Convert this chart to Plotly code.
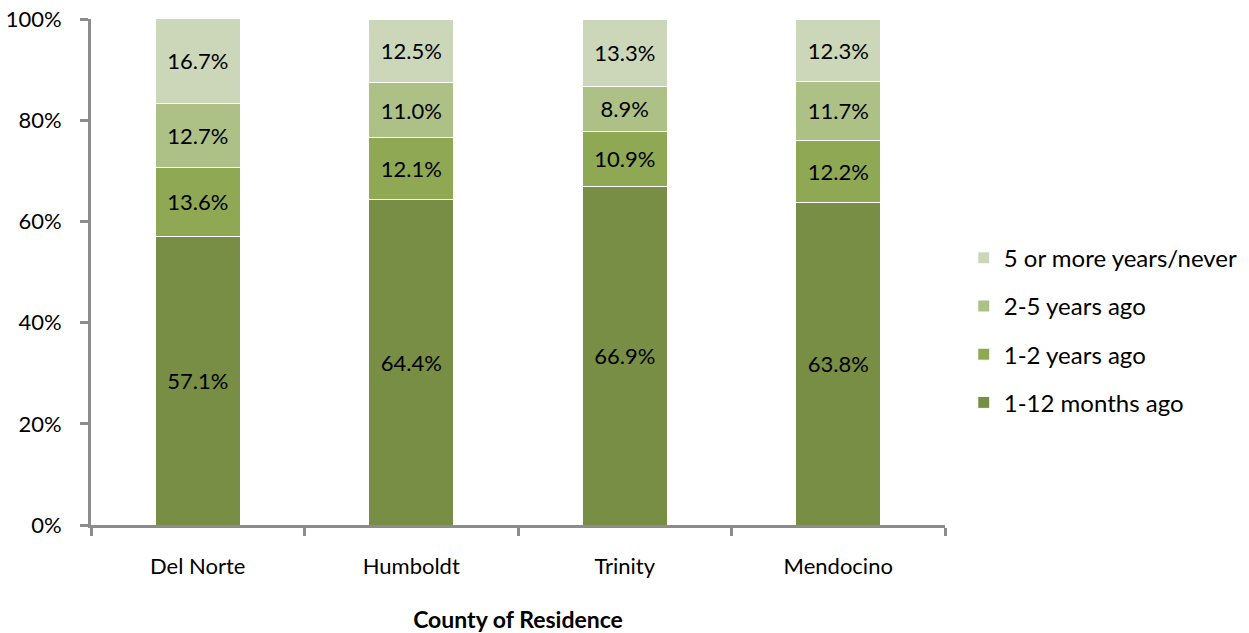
import plotly.graph_objects as go

# Share of respondents by time since last visit, per county
counties = ["Del Norte", "Humboldt", "Trinity", "Mendocino"]
series_names = ["1-12 months ago", "1-2 years ago", "2-5 years ago", "5 or more years/never"]
months_1_12 = [57.1, 64.4, 66.9, 63.8]
years_1_2 = [13.6, 12.1, 10.9, 12.2]
years_2_5 = [12.7, 11.0, 8.9, 11.7]
years_5_plus = [16.7, 12.5, 13.3, 12.3]
y_ticks = [0, 20, 40, 60, 80, 100]

series_values = [months_1_12, years_1_2, years_2_5, years_5_plus]
colors = ["#778E44", "#8FA853", "#ADC187", "#CBD7B8"]

FONT = "Lato, Carlito, 'Liberation Sans', sans-serif"
AXIS_GREY = "#8C8C8C"

fig = go.Figure()
n = len(series_names)
for i, (name, vals, col) in enumerate(zip(series_names, series_values, colors)):
    fig.add_trace(go.Bar(
        x=counties,
        y=vals,
        name=name,
        legendgroup=name,
        # top segment listed first in the legend
        legendrank=(n - i) * 100,
        marker=dict(color=col, line=dict(color="white", width=1)),
        text=[f"{v:.1f}%" for v in vals],
        textposition="inside",
        insidetextanchor="middle",
        textangle=0,
        constraintext="none",
        textfont=dict(family=FONT, size=22, color="black"),
        hoverinfo="skip",
    ))

fig.update_layout(
    width=1249,
    height=633,
    barmode="stack",
    bargap=0.6,
    plot_bgcolor="white",
    paper_bgcolor="white",
    margin=dict(l=91, r=304, t=19, b=108, autoexpand=False),
    font=dict(family=FONT, size=22, color="black"),
    legend=dict(
        traceorder="grouped",
        x=1.022,
        xanchor="left",
        y=0.385,
        yanchor="middle",
        font=dict(family=FONT, size=24, color="black"),
        tracegroupgap=14,
        itemwidth=30,
    ),
    showlegend=True,
)

fig.update_xaxes(
    automargin=False,
    showline=True,
    linecolor=AXIS_GREY,
    linewidth=3,
    ticks="outside",
    tickson="boundaries",
    ticklen=8,
    tickwidth=3,
    tickcolor=AXIS_GREY,
    ticklabelstandoff=20,
    tickfont=dict(family=FONT, size=22, color="black"),
    title=dict(
        text="<b>County of Residence</b>",
        font=dict(family=FONT, size=23, color="black"),
        standoff=34,
    ),
    showgrid=False,
)

fig.update_yaxes(
    automargin=False,
    range=[0, 100],
    tickvals=y_ticks,
    ticktext=[f"{t}%" for t in y_ticks],
    showline=True,
    linecolor=AXIS_GREY,
    linewidth=3,
    ticks="outside",
    ticklen=8,
    tickwidth=3,
    tickcolor=AXIS_GREY,
    ticklabelstandoff=14,
    tickfont=dict(family=FONT, size=22, color="black"),
    showgrid=False,
    zeroline=False,
)

fig.write_html("out.html")
